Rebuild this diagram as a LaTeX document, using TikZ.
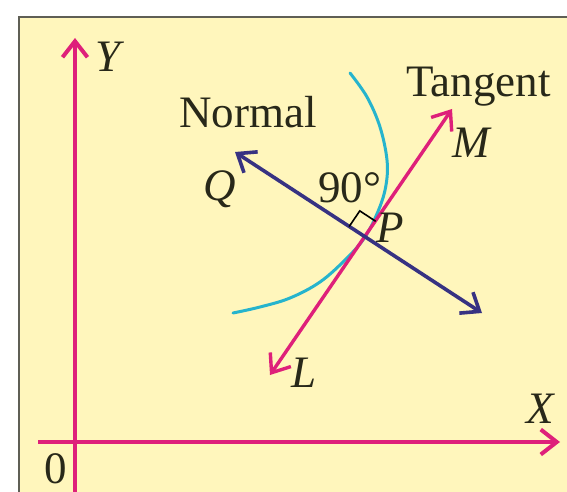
\documentclass[tikz,border=0pt]{standalone}
\usepackage{fontspec}
\setmainfont{Liberation Serif}
\usetikzlibrary{arrows.meta,calc}
\definecolor{bgyellow}{RGB}{255,246,188}
\definecolor{framegray}{RGB}{95,95,85}
\definecolor{axmag}{RGB}{222,32,122}
\definecolor{normblue}{RGB}{55,50,130}
\definecolor{curvecyan}{RGB}{38,180,205}
\definecolor{txt}{RGB}{40,40,25}
\tikzset{
  tip/.tip={Straight Barb[length=16pt,width=25pt]},
  axisline/.style={axmag, line width=4pt, -tip},
  tanline/.style={axmag, line width=3.4pt, tip-tip},
  normline/.style={normblue, line width=3.6pt, tip-tip},
  lbl/.style={inner sep=0pt, anchor=base west, text=txt, font=\fontsize{45}{50}\selectfont},
}
\begin{document}
\begin{tikzpicture}[x=1pt,y=-1pt]
\useasboundingbox (0,0) rectangle (567,492);
\clip (0,0) rectangle (567,492);
\fill[white] (0,0) rectangle (567,492);
\draw[fill=bgyellow, draw=framegray, line width=2.5pt] (19,17) rectangle (600,520);
% coordinates
\coordinate (Ybot) at (75,500);
\coordinate (Ytop) at (75,38);
\coordinate (Xl) at (38,442);
\coordinate (Xr) at (560,442);
\coordinate (P) at (365,237);
\coordinate (Qe) at (235,152);
\coordinate (Ne) at (482,313);
\coordinate (Le) at (270,375);
\coordinate (Me) at (452,109);
\coordinate (ra1) at ($(P)!19pt!(Qe)$);
\coordinate (ra2) at ($(P)!19pt!(Me)$);
\coordinate (ra3) at ($(ra1)+(ra2)-(P)$);
% axes
\draw[axisline] (Ybot) -- (Ytop);
\draw[axisline] (Xl) -- (Xr);
% curve
\draw[curvecyan, line width=3pt, line cap=round] plot[smooth, tension=0.6] coordinates {(350,73) (367,97) (380,127) (387,160) (386,185) (379,209) (365,237) (346,259) (320,282) (290,298) (260,307) (233,313)};
% tangent and normal
\draw[tanline] (Le) -- (Me);
\draw[normline] (Qe) -- (Ne);
% right angle mark
\draw[black, line width=1.6pt] (ra1) -- (ra3) -- (ra2);
% labels
\node[lbl] (ylab) at (95,72) {\textit{Y}};
\node[lbl] (xlab) at (526,423) {\textit{X}};
\node[lbl] (olab) at (44,483) {0};
\node[lbl] (normal) at (179,128) {Normal};
\node[lbl] (tangent) at (406,97) {Tangent};
\node[lbl] (qlab) at (203,200) {\textit{Q}};
\node[lbl] (plab) at (376,242) {\textit{P}};
\node[lbl] (mlab) at (452,157) {\textit{M}};
\node[lbl] (llab) at (291,387) {\textit{L}};
\node[lbl] (deg) at (318,202) {90°};
\end{tikzpicture}
\end{document}
